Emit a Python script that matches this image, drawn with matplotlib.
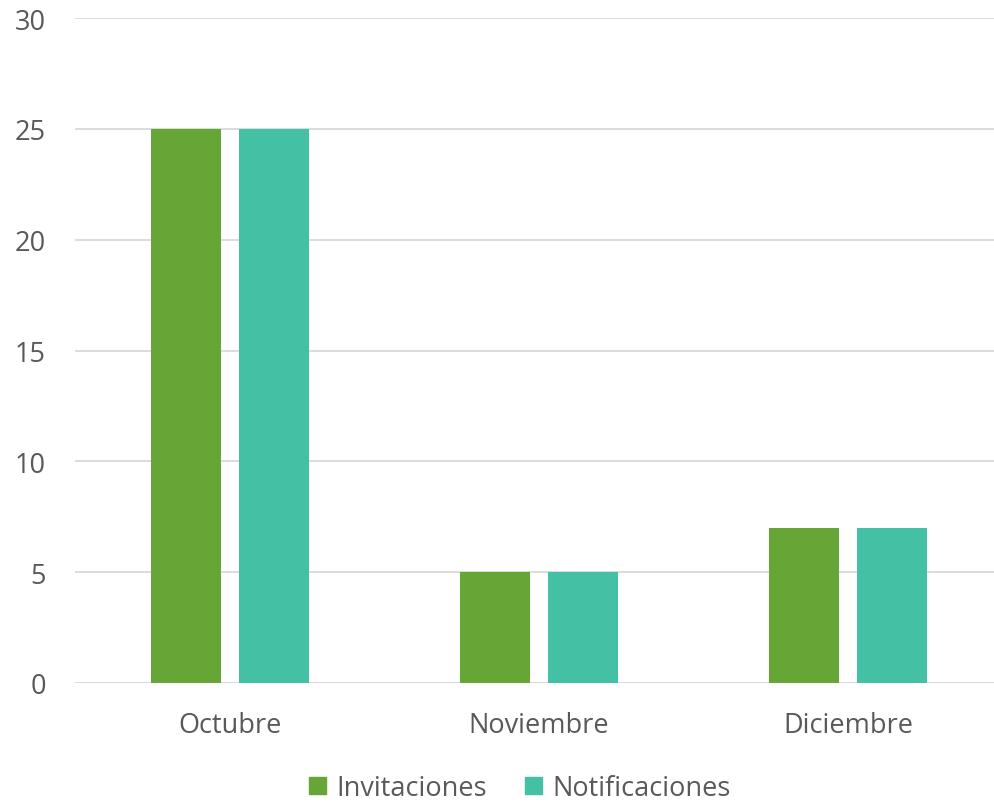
import matplotlib
matplotlib.use("Agg")
import matplotlib.pyplot as plt
import numpy as np
from matplotlib.patches import Patch

categories = ["Octubre", "Noviembre", "Diciembre"]
invitaciones = [25, 5, 7]
notificaciones = [25, 5, 7]
series_names = ["Invitaciones", "Notificaciones"]
colors = ["#65A637", "#44C1A4"]

plt.rcParams['font.family'] = ['Open Sans', 'DejaVu Sans']
text_color = "#595959"
fs = 19.5

fig = plt.figure(figsize=(9.94, 8.03), dpi=100)
ax = fig.add_axes([75/994, (803-684)/803, (1003-75)/994, (684-19)/803])

x = np.arange(len(categories))
w = 0.226
off = 0.142
ax.bar(x - off, invitaciones, width=w, color=colors[0], zorder=3)
ax.bar(x + off, notificaciones, width=w, color=colors[1], zorder=3)

ax.set_xlim(-0.5, 2.5)
ax.set_ylim(0, 30)
ax.set_yticks(range(0, 31, 5))
ax.yaxis.grid(True, color="#D9D9D9", linewidth=1.3, zorder=0)
ax.set_xticks(x)
ax.set_xticklabels(categories)
for s in ax.spines.values():
    s.set_visible(False)
ax.tick_params(axis='both', length=0, labelsize=fs, colors=text_color)
ax.tick_params(axis='y', pad=21)
ax.tick_params(axis='x', pad=20)
ax.axhline(0, color="#D9D9D9", linewidth=1.3, zorder=2)

handles = [Patch(color=c, label=n) for c, n in zip(colors, series_names)]
leg = fig.legend(handles=handles, loc='center', bbox_to_anchor=(520/994, 1 - 789/803),
                 ncol=2, frameon=False, fontsize=fs, handlelength=0.62, handleheight=0.62,
                 handletextpad=0.4, columnspacing=1.4, borderpad=0)
for t in leg.get_texts():
    t.set_color(text_color)

fig.savefig("out.png", dpi=100)
